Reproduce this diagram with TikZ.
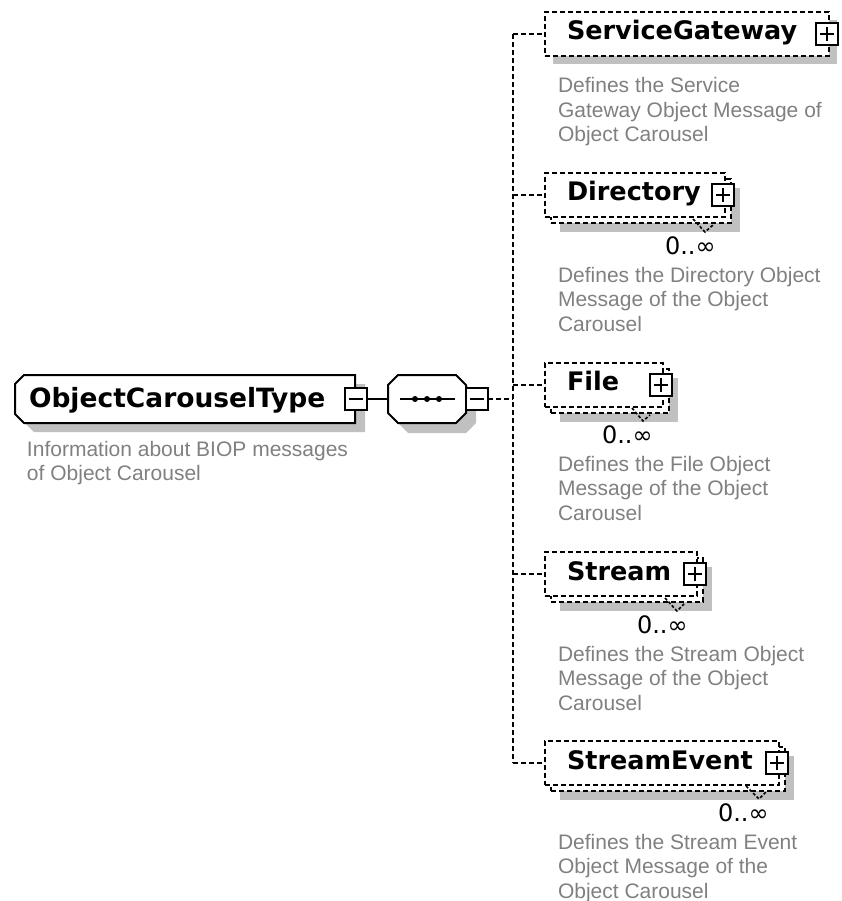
\documentclass[tikz,border=0pt]{standalone}
\usepackage{fontspec}
\setmainfont{DejaVu Sans}
\newfontfamily\descfont{Liberation Sans}
\definecolor{shadowgray}{RGB}{192,192,192}
\definecolor{descgray}{RGB}{128,128,128}
\tikzset{
  nodebase/.style={inner sep=0pt, outer sep=0pt},
  shadowbox/.style={nodebase, rectangle, fill=shadowgray, draw=none},
  elembox/.style={nodebase, rectangle, draw, fill=white, line width=2pt, dash pattern=on 5pt off 3pt},
  plainbox/.style={nodebase, rectangle, draw=none},
  toggle/.style={nodebase, rectangle, draw, fill=white, line width=2pt, minimum width=22pt, minimum height=22pt},
  conn/.style={line width=2pt, dash pattern=on 5pt off 3pt},
  solidconn/.style={line width=2pt},
  cardmark/.style={line width=1.6pt, dash pattern=on 3pt off 2pt},
  elemname/.style={nodebase, anchor=base west, font=\bfseries\fontsize{25.5}{30}\selectfont},
  desc/.style={nodebase, anchor=base west, text=descgray, font=\descfont\fontsize{21}{24}\selectfont},
  card/.style={nodebase, anchor=base west, font=\fontsize{24}{28}\selectfont},
}
% left-chamfered outline around a node
\newcommand\chamLeft[3]{%
  \path[#2] ([xshift=#3]#1.north west) -- (#1.north east) -- (#1.south east)
    -- ([xshift=#3]#1.south west) -- ([yshift=#3]#1.south west)
    -- ([yshift=-#3]#1.north west) -- cycle;}
% octagon outline around a node
\newcommand\chamAll[3]{%
  \path[#2] ([xshift=#3]#1.north west) -- ([xshift=-#3]#1.north east)
    -- ([yshift=-#3]#1.north east) -- ([yshift=#3]#1.south east)
    -- ([xshift=-#3]#1.south east) -- ([xshift=#3]#1.south west)
    -- ([yshift=#3]#1.south west) -- ([yshift=-#3]#1.north west) -- cycle;}
\begin{document}
\begin{tikzpicture}[x=1pt,y=-1pt]
\useasboundingbox (0,0) rectangle (841,901);

% ---------- root element ----------
\node[plainbox, minimum width=340pt, minimum height=48pt] (mainshadow) at (195,408) {};
\node[plainbox, minimum width=340pt, minimum height=48pt] (main) at (185,399) {};
\chamLeft{mainshadow}{fill=shadowgray}{9pt}
\chamLeft{main}{draw, fill=white, line width=2pt}{9pt}
\node[elemname, font=\bfseries\fontsize{26.5}{30}\selectfont] (maintxt) at (29,407) {ObjectCarouselType};
\node[toggle] (mainminus) at (356,399) {};
\draw[solidconn] ([xshift=-7pt]mainminus.center) -- ([xshift=7pt]mainminus.center);
\node[desc] (maind1) at (27,456) {Information about BIOP messages};
\node[desc] (maind2) at (27,480) {of Object Carousel};

% ---------- sequence compositor ----------
\node[plainbox, minimum width=78pt, minimum height=48pt] (seqshadow) at (437,409) {};
\node[plainbox, minimum width=78pt, minimum height=48pt] (seq) at (427,399) {};
\chamAll{seqshadow}{fill=shadowgray}{10pt}
\chamAll{seq}{draw, fill=white, line width=2pt}{10pt}
\draw[solidconn] ([xshift=-27pt]seq.center) -- ([xshift=28pt]seq.center);
\fill ([xshift=-12pt]seq.center) circle (3pt);
\fill (seq.center) circle (3pt);
\fill ([xshift=12pt]seq.center) circle (3pt);
\node[toggle] (seqminus) at (477,399) {};
\draw[solidconn] ([xshift=-7pt]seqminus.center) -- ([xshift=7pt]seqminus.center);
\draw[solidconn] (mainminus.east) -- (seq.west);
\coordinate (spine) at (513,399);
\draw[conn] (seqminus.east) -- (spine);

% ---------- ServiceGateway ----------
\node[shadowbox, minimum width=284pt, minimum height=44pt] (sgshadow) at (695,42) {};
\node[elembox, minimum width=284pt, minimum height=44pt] (sg) at (687,34) {};
\node[elemname] (sgtxt) at (567,40) {ServiceGateway};
\node[toggle] (sgplus) at (827,34) {};
\node[desc] (sgd1) at (558,93) {Defines the Service};
\node[desc] (sgd2) at (558,117.5) {Gateway Object Message of};
\node[desc] (sgd3) at (558,142) {Object Carousel};

% ---------- Directory ----------
\node[shadowbox, minimum width=180pt, minimum height=44pt] (dirshadow) at (650,210) {};
\node[elembox, minimum width=180pt, minimum height=44pt] (dirback) at (641,201) {};
\node[elembox, minimum width=180pt, minimum height=44pt] (dir) at (635,195) {};
\node[elemname] (dirtxt) at (567,201) {Directory};
\node[toggle] (dirplus) at (723,195) {};
\draw[cardmark] (693,219) -- (705,232) -- (713,225);
\node[card] (dircard) at (665,254) {0..∞};
\node[desc] (dird1) at (558,282) {Defines the Directory Object};
\node[desc] (dird2) at (558,306.5) {Message of the Object};
\node[desc] (dird3) at (558,331) {Carousel};

% ---------- File ----------
\node[shadowbox, minimum width=118pt, minimum height=44pt] (fileshadow) at (619,400) {};
\node[elembox, minimum width=118pt, minimum height=44pt] (fileback) at (610,391) {};
\node[elembox, minimum width=118pt, minimum height=44pt] (file) at (604,385) {};
\node[elemname] (filetxt) at (567,390) {File};
\node[toggle] (fileplus) at (661,385) {};
\draw[cardmark] (632,408) -- (643,421) -- (650,415);
\node[card] (filecard) at (602,443) {0..∞};
\node[desc] (filed1) at (558,471) {Defines the File Object};
\node[desc] (filed2) at (558,495.5) {Message of the Object};
\node[desc] (filed3) at (558,520) {Carousel};

% ---------- Stream ----------
\node[shadowbox, minimum width=152pt, minimum height=44pt] (strshadow) at (636,589) {};
\node[elembox, minimum width=152pt, minimum height=44pt] (strback) at (627,580) {};
\node[elembox, minimum width=152pt, minimum height=44pt] (stream) at (621,574) {};
\node[elemname] (strtxt) at (567,580) {Stream};
\node[toggle] (strplus) at (695,574) {};
\draw[cardmark] (665,598) -- (677,611) -- (684,604);
\node[card] (strcard) at (637,633) {0..∞};
\node[desc] (strd1) at (558,661) {Defines the Stream Object};
\node[desc] (strd2) at (558,685.5) {Message of the Object};
\node[desc] (strd3) at (558,710) {Carousel};

% ---------- StreamEvent ----------
\node[shadowbox, minimum width=234pt, minimum height=44pt] (seshadow) at (677,778) {};
\node[elembox, minimum width=234pt, minimum height=44pt] (seback) at (668,769) {};
\node[elembox, minimum width=234pt, minimum height=44pt] (sevent) at (662,763) {};
\node[elemname] (setxt) at (567,769) {StreamEvent};
\node[toggle] (seplus) at (777,763) {};
\draw[cardmark] (746,786) -- (759,799) -- (766,792);
\node[card] (secard) at (718,821) {0..∞};
\node[desc] (sed1) at (558,849) {Defines the Stream Event};
\node[desc] (sed2) at (558,873.5) {Object Message of the};
\node[desc] (sed3) at (558,898) {Object Carousel};

% plus signs
\foreach \p in {sgplus,dirplus,fileplus,strplus,seplus}{
  \draw[solidconn] ([xshift=-7pt]\p.center) -- ([xshift=7pt]\p.center);
  \draw[solidconn] ([yshift=-7pt]\p.center) -- ([yshift=7pt]\p.center);
}

% ---------- connectors ----------
\draw[conn] (sg.west -| spine) -- (sevent.west -| spine);
\foreach \n in {sg,dir,file,stream,sevent}{
  \draw[conn] (\n.west -| spine) -- (\n.west);
}
\end{tikzpicture}
\end{document}
